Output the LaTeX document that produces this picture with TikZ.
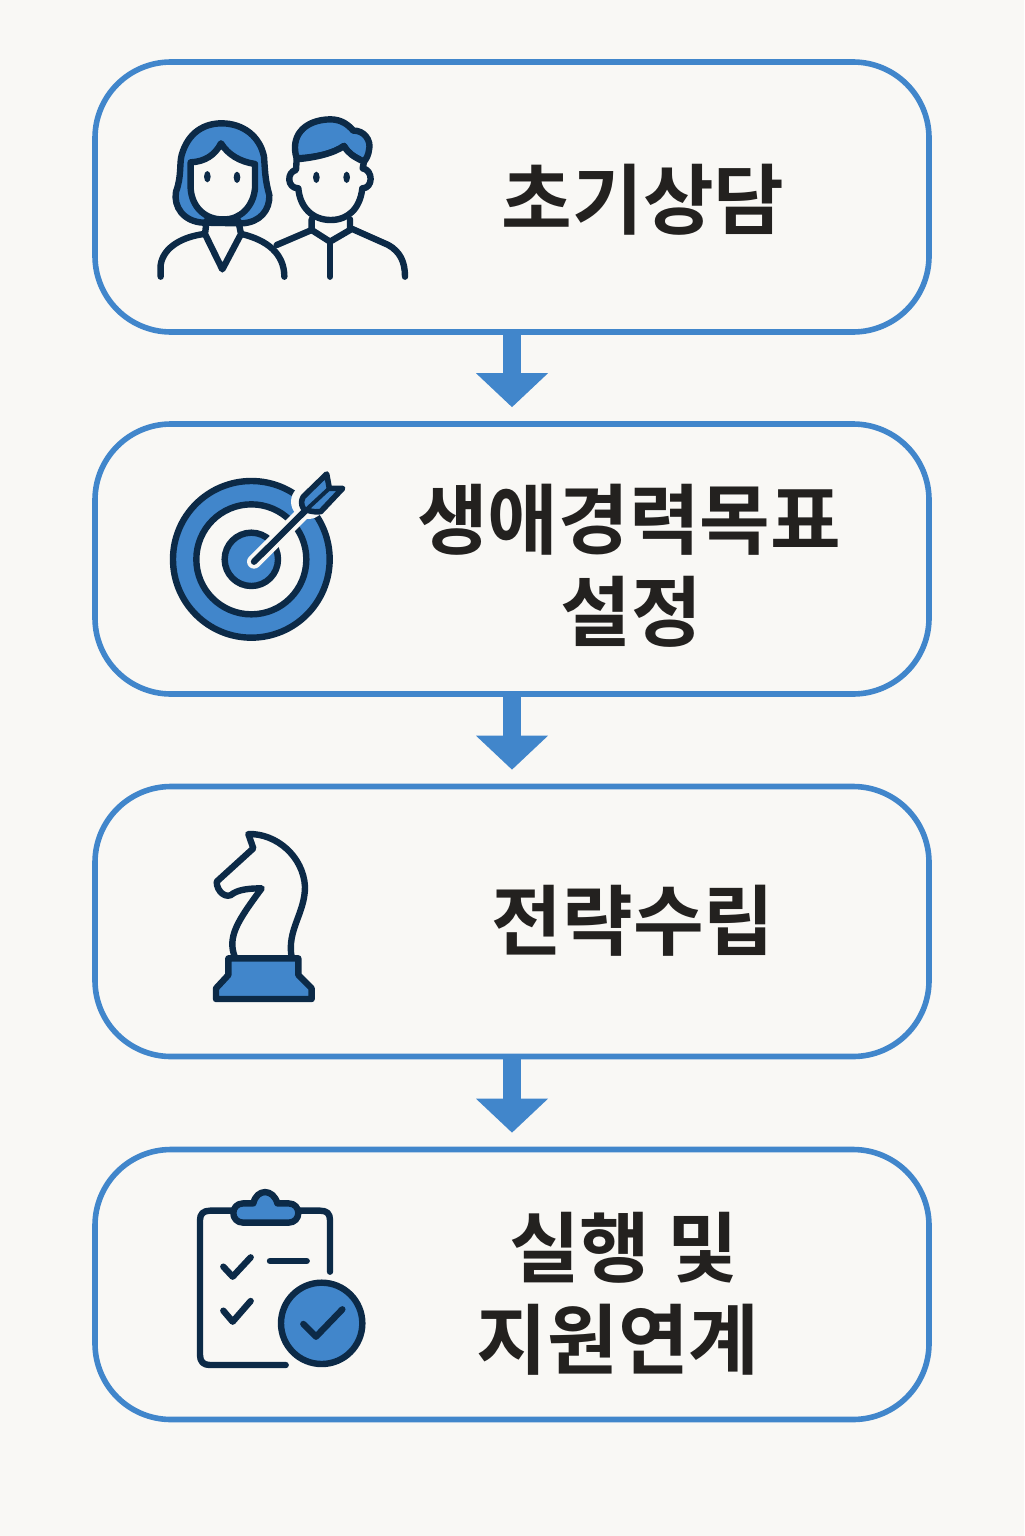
\documentclass[tikz,border=0pt]{standalone}
\usepackage{fontspec}
\usetikzlibrary{arrows.meta}
\newfontfamily\cjk{Noto Sans CJK KR}[BoldFont={Noto Sans CJK KR Bold}]
\definecolor{paper}{HTML}{F9F8F5}
\definecolor{flowblue}{HTML}{4186CB}
\definecolor{navy}{HTML}{0C2A47}
\definecolor{inktext}{HTML}{23211F}
\tikzset{
  stagebox/.style={draw=flowblue,line width=2.8pt,rounded corners=38pt,fill=paper,minimum width=417pt,minimum height=135pt,inner sep=0pt},
  stagetext/.style={font=\cjk\bfseries\fontsize{38.4}{46}\selectfont,text=inktext,align=center,inner sep=0pt},
  flowarrow/.style={draw=flowblue,line width=9pt,-{Triangle[width=35pt,length=17pt,fill=flowblue]},shorten >=7pt},
  ink/.style={draw=navy,line width=3.2pt,line cap=round,line join=round},
  inkfill/.style={ink,fill=flowblue},
  zoomed/.style={x=0.16667pt,y=-0.16667pt}
}
\begin{document}
\begin{tikzpicture}[x=0.5pt,y=-0.5pt]
\useasboundingbox (0,0) rectangle (1024,1536);
\fill[paper] (0,0) rectangle (1024,1536);
\node[stagebox] (box1) at (512,197) {};
\node[stagebox] (box2) at (512,559) {};
\node[stagebox] (box3) at (512,921.5) {};
\node[stagebox] (box4) at (512,1284.5) {};
\draw[flowarrow] (box1) -- (box2);
\draw[flowarrow] (box2) -- (box3);
\draw[flowarrow] (box3) -- (box4);
\node[stagetext] (t1) at (643,199.5) {초기상담};
\node[stagetext] (t2) at (629,566) {생애경력목표\\\hspace*{2pt}설정};
\node[stagetext] (t3) at (633,921) {전략수립};
\node[stagetext] (t4) at (618,1294) {\hspace*{6pt}실행 및\\지원연계};
% people
\begin{scope}[shift={(140,100)},zoomed]
  \draw[inkfill] (190,368) .. controls (130,365) and (100,320) .. (108,275) .. controls (125,230) and (118,190) .. (125,165) .. controls (145,95) and (195,70) .. (245,70) .. controls (310,70) and (360,110) .. (372,170) .. controls (375,210) and (375,240) .. (388,285) .. controls (390,330) and (360,368) .. (305,370) -- cycle;
  \draw[ink,fill=paper] (243,130) .. controls (225,165) and (195,185) .. (152,187) -- (152,265) .. controls (155,320) and (195,360) .. (250,358) .. controls (300,360) and (340,320) .. (345,265) -- (345,192) .. controls (300,185) and (265,165) .. (243,130) -- cycle;
  \draw[ink] (200,362) -- (195,402) -- (247,508) -- (303,402) -- (295,362);
  \draw[ink] (62,530) -- (62,495) .. controls (70,440) and (130,410) .. (192,402);
  \draw[ink] (305,402) .. controls (380,420) and (433,460) .. (433,530);
  \draw[inkfill] (470,175) .. controls (450,110) and (490,60) .. (570,58) .. controls (605,58) and (625,75) .. (640,92) .. controls (670,90) and (695,120) .. (687,150) .. controls (685,165) and (680,175) .. (672,185) .. controls (640,170) and (625,160) .. (612,138) .. controls (580,160) and (530,172) .. (470,175) -- cycle;
  \draw[ink,fill=paper] (470,178) -- (468,210) .. controls (440,215) and (440,265) .. (475,265) .. controls (480,325) and (520,360) .. (572,360) .. controls (625,360) and (660,325) .. (667,265) .. controls (700,265) and (700,210) .. (668,205) -- (672,185) .. controls (640,170) and (625,160) .. (612,138) .. controls (580,160) and (530,172) .. (470,178) -- cycle;
  \draw[ink] (515,358) -- (515,390) -- (570,425) -- (630,390) -- (630,358);
  \draw[ink] (570,425) -- (570,530);
  \draw[ink] (410,435) -- (515,390);
  \draw[ink] (637,387) -- (745,435) .. controls (780,455) and (795,485) .. (795,530);
  \fill[navy] (202,230) ellipse [x radius=10,y radius=17];
  \fill[navy] (291,232) ellipse [x radius=10,y radius=17];
  \fill[navy] (529,232) ellipse [x radius=10,y radius=17];
  \fill[navy] (620,232) ellipse [x radius=10,y radius=17];
\end{scope}
% target
\begin{scope}[shift={(150,450)},zoomed]
  \draw[inkfill] (304,328) circle [radius=235];
  \draw[ink,fill=paper] (304,328) circle [radius=165];
  \draw[inkfill] (304,328) circle [radius=80];
  \draw[paper,line width=7pt,line cap=round] (312,335) -- (470,178);
  \fill[paper] (475,155) circle [radius=52];
  \draw[ink] (312,335) -- (470,178);
  \draw[inkfill,line width=2.8pt] (530,72) -- (538,115) -- (578,115) -- (512,185) .. controls (490,188) and (470,180) .. (462,178) .. controls (450,160) and (455,150) .. (460,140) -- cycle;
  \draw[ink,line width=2pt] (470,178) -- (538,115);
\end{scope}
% knight
\begin{scope}[shift={(190,820)},zoomed]
  \draw[ink,fill=paper] (135,412) .. controls (110,350) and (145,300) .. (215,205) .. controls (180,205) and (150,208) .. (130,220) .. controls (110,240) and (80,215) .. (80,185) -- (190,85) -- (175,42) .. controls (260,40) and (340,110) .. (345,200) .. controls (345,280) and (290,330) .. (305,412);
  \draw[inkfill] (115,415) -- (325,415) -- (325,465) -- (365,505) -- (365,537) -- (78,537) -- (78,505) -- (115,465) -- cycle;
\end{scope}
% clipboard
\begin{scope}[shift={(185,1180)},zoomed]
  \draw[ink] (435,275) -- (435,120) .. controls (435,100) and (425,92) .. (405,92) -- (345,92);
  \draw[ink] (140,92) -- (75,92) .. controls (55,92) and (45,102) .. (45,120) -- (45,525) .. controls (45,545) and (55,555) .. (75,555) -- (302,555);
  \draw[inkfill] (175,70) -- (205,70) .. controls (215,25) and (265,25) .. (277,70) -- (310,70) .. controls (350,70) and (350,128) .. (310,128) -- (175,128) .. controls (135,128) and (135,70) .. (175,70) -- cycle;
  \draw[ink] (115,260) -- (143,290) -- (197,232);
  \draw[ink] (115,392) -- (143,425) -- (197,363);
  \draw[ink] (255,243) -- (365,243);
  \draw[inkfill] (410,430) circle [radius=122];
  \draw[ink] (355,432) -- (393,470) -- (472,388);
\end{scope}
\end{tikzpicture}
\end{document}
